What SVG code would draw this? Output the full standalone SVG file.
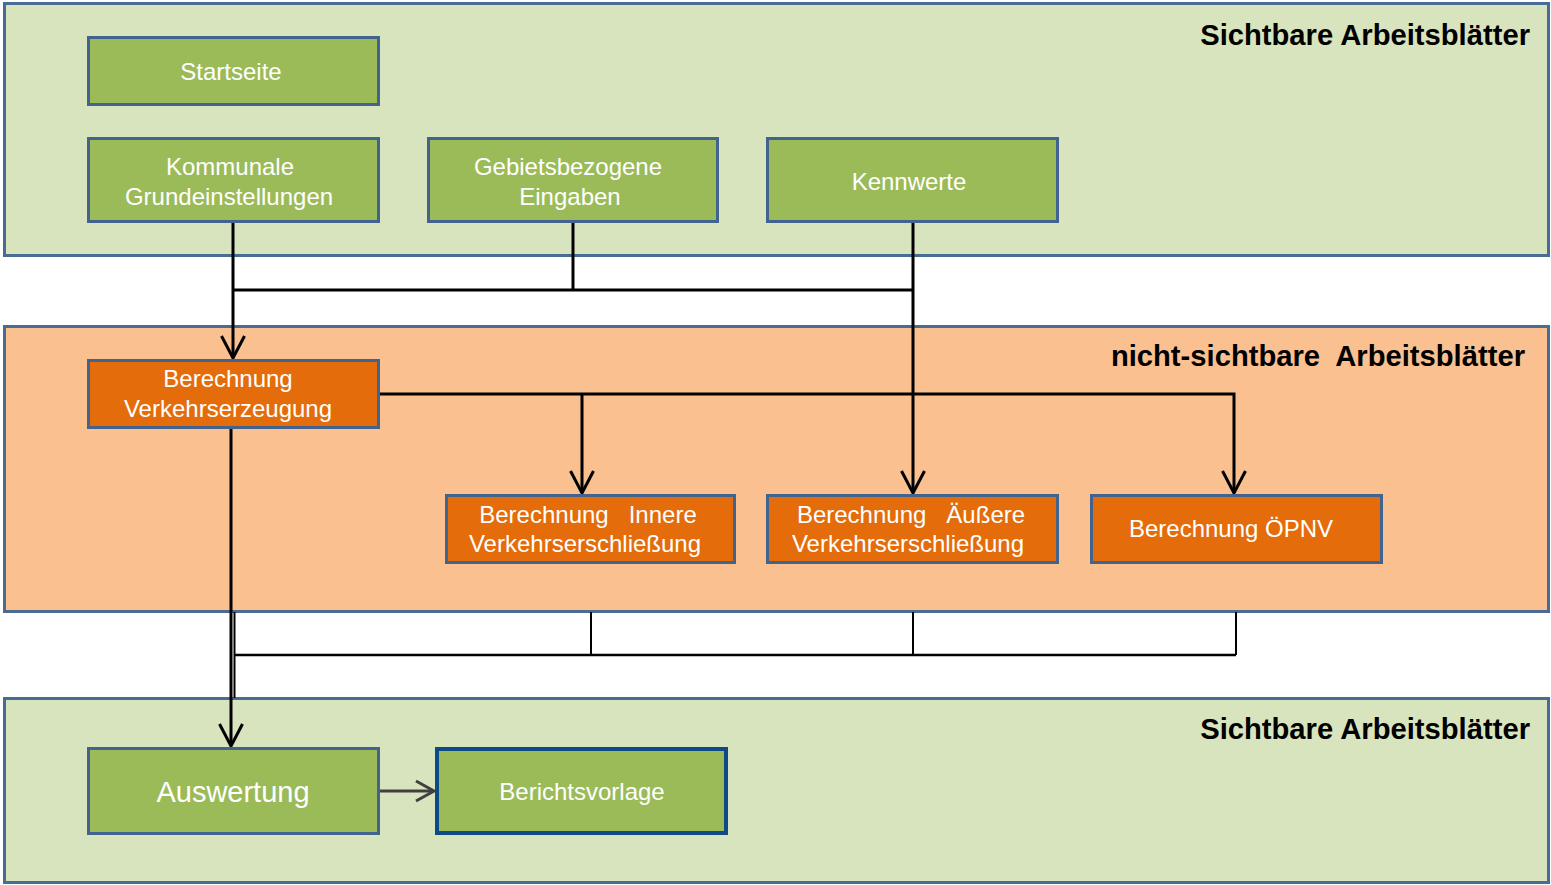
<svg xmlns="http://www.w3.org/2000/svg" width="1551" height="885" viewBox="0 0 1551 885">
  <style>
    .panel { stroke: #4A6C94; stroke-width: 3; }
    .pg { fill: #D8E4BD; }
    .po { fill: #FAC090; }
    .node { stroke: #43638F; stroke-width: 3; }
    .ng { fill: #9BBB59; }
    .no { fill: #E46C0A; }
    .lbl { font-family: "Liberation Sans", Arial, sans-serif; font-size: 24px; fill: #FFFFFF; text-anchor: middle; white-space: pre; }
    .title { font-family: "Liberation Sans", Arial, sans-serif; font-size: 29.2px; font-weight: bold; fill: #000000; text-anchor: end; white-space: pre; }
    .wire { fill: none; stroke: #000000; stroke-width: 3; }
    .thin { fill: none; stroke: #000000; stroke-width: 2; }
  </style>
  <defs>
    <marker id="vhead" markerUnits="userSpaceOnUse" orient="auto" refX="0" refY="0" markerWidth="30" markerHeight="30" overflow="visible">
      <path d="M -22 -11.5 L 0 0 L -22 11.5" fill="none" stroke="#000000" stroke-width="3"/>
    </marker>
    <marker id="vheadGrey" markerUnits="userSpaceOnUse" orient="auto" refX="0" refY="0" markerWidth="30" markerHeight="30" overflow="visible">
      <path d="M -18 -10 L 0 0 L -18 10" fill="none" stroke="#404040" stroke-width="3"/>
    </marker>
  </defs>

  <!-- background bands -->
  <g id="band-visible-top">
    <rect class="panel pg" x="4.5" y="3.5" width="1544" height="252"/>
    <text class="title" x="1530" y="45">Sichtbare Arbeitsblätter</text>
  </g>
  <g id="band-hidden">
    <rect class="panel po" x="4.5" y="326.5" width="1544" height="285"/>
    <text class="title" x="1525" y="366">nicht-sichtbare  Arbeitsblätter</text>
  </g>
  <g id="band-visible-bottom">
    <rect class="panel pg" x="4.5" y="698.5" width="1544" height="184"/>
    <text class="title" x="1530" y="739">Sichtbare Arbeitsblätter</text>
  </g>

  <!-- connectors -->
  <g id="connectors">
    <path class="wire" d="M 233 222 L 233 358" marker-end="url(#vhead)"/>
    <path class="wire" d="M 233 290 L 913 290"/>
    <path class="wire" d="M 573 222 L 573 290"/>
    <path class="wire" d="M 913 222 L 913 493" marker-end="url(#vhead)"/>
    <path class="wire" d="M 379 394 L 1234 394 L 1234 493" marker-end="url(#vhead)"/>
    <path class="wire" d="M 582 394 L 582 493" marker-end="url(#vhead)"/>
    <path class="wire" d="M 231 428 L 231 746" marker-end="url(#vhead)"/>
    <path class="thin" d="M 591 612 L 591 655"/>
    <path class="thin" d="M 913 612 L 913 655"/>
    <path class="thin" d="M 1236 612 L 1236 655"/>
    <path class="wire" d="M 234 655 L 1236 655" style="stroke-width:2.5"/>
    <path class="thin" d="M 234.5 612 L 234.5 698"/>
    <path d="M 379 791 L 434 791" fill="none" stroke="#404040" stroke-width="3" marker-end="url(#vheadGrey)"/>
  </g>

  <!-- nodes -->
  <g id="startseite">
    <rect class="node ng" x="88.5" y="37.5" width="290" height="67"/>
    <text class="lbl" x="231" y="80">Startseite</text>
  </g>
  <g id="kommunale">
    <rect class="node ng" x="88.5" y="138.5" width="290" height="83"/>
    <text class="lbl" x="230" y="175">Kommunale</text>
    <text class="lbl" x="229" y="205">Grundeinstellungen</text>
  </g>
  <g id="gebietsbezogen">
    <rect class="node ng" x="428.5" y="138.5" width="289" height="83"/>
    <text class="lbl" x="568" y="175">Gebietsbezogene</text>
    <text class="lbl" x="570" y="205">Eingaben</text>
  </g>
  <g id="kennwerte">
    <rect class="node ng" x="767.5" y="138.5" width="290" height="83"/>
    <text class="lbl" x="909" y="190">Kennwerte</text>
  </g>
  <g id="verkehrserzeugung">
    <rect class="node no" x="88.5" y="360.5" width="290" height="67"/>
    <text class="lbl" x="228" y="387">Berechnung</text>
    <text class="lbl" x="228" y="417">Verkehrserzeugung</text>
  </g>
  <g id="innere">
    <rect class="node no" x="446.5" y="495.5" width="288" height="67"/>
    <text class="lbl" x="588" y="523">Berechnung   Innere</text>
    <text class="lbl" x="585" y="552">Verkehrserschließung</text>
  </g>
  <g id="aeussere">
    <rect class="node no" x="767.5" y="495.5" width="290" height="67"/>
    <text class="lbl" x="911" y="523">Berechnung   Äußere</text>
    <text class="lbl" x="908" y="552">Verkehrserschließung</text>
  </g>
  <g id="oepnv">
    <rect class="node no" x="1091.5" y="495.5" width="290" height="67"/>
    <text class="lbl" x="1231" y="537">Berechnung ÖPNV</text>
  </g>
  <g id="auswertung">
    <rect class="node ng" x="88.5" y="748.5" width="290" height="85"/>
    <text class="lbl" x="233" y="802" style="font-size:29px">Auswertung</text>
  </g>
  <g id="berichtsvorlage">
    <rect class="ng" x="437" y="749" width="289" height="84" stroke="#0F4A87" stroke-width="4"/>
    <text class="lbl" x="582" y="800">Berichtsvorlage</text>
  </g>
</svg>
